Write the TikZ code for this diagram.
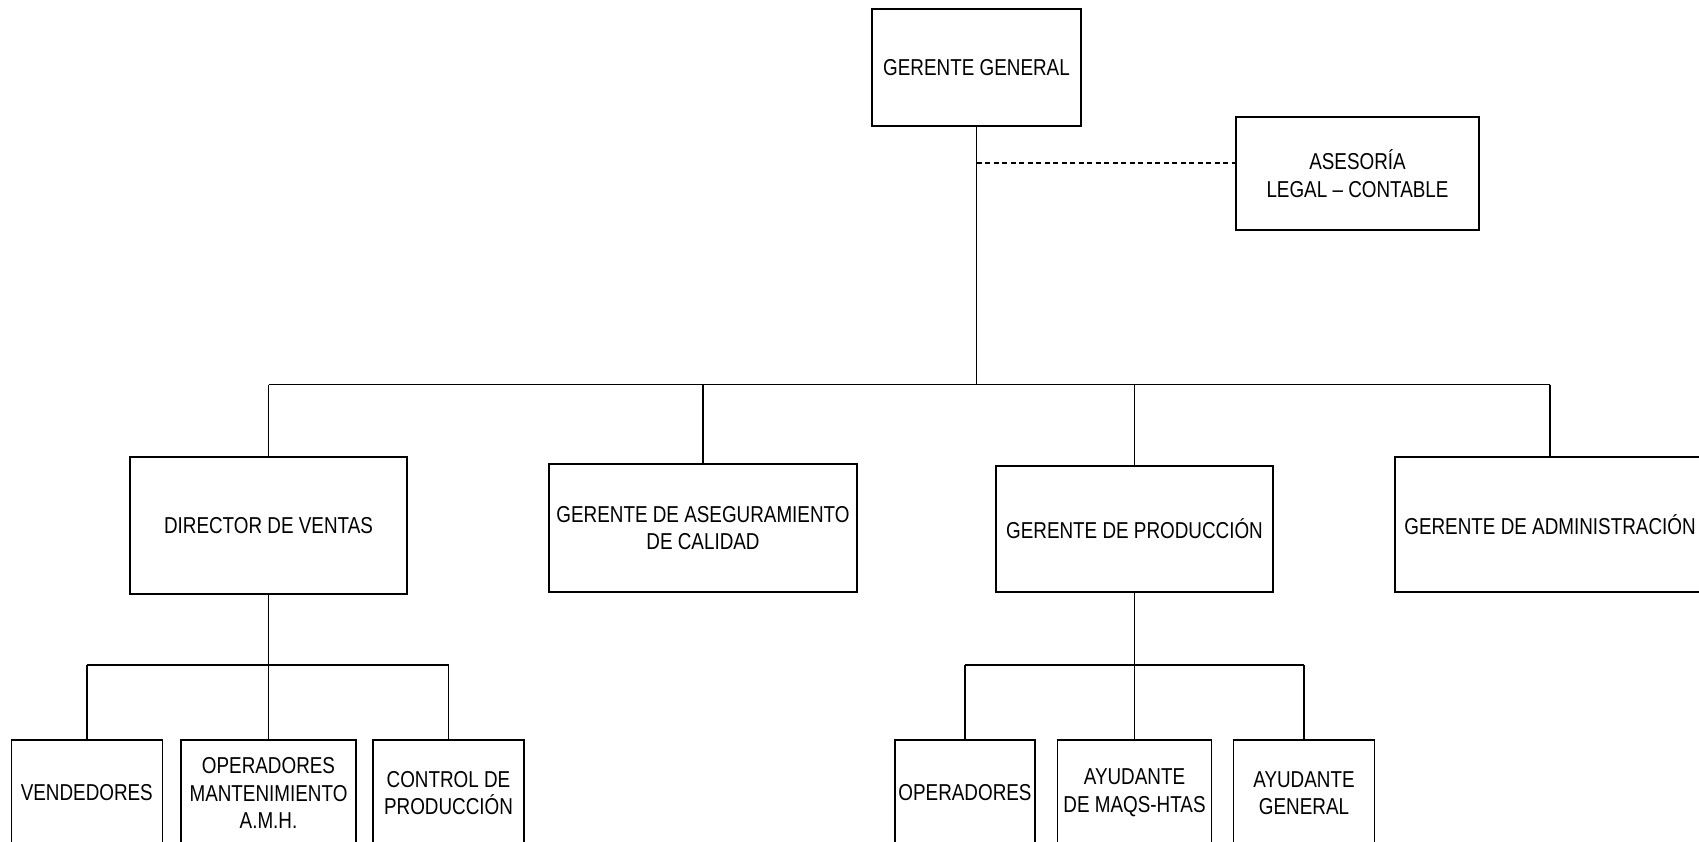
\documentclass[tikz,border=0pt]{standalone}
\usepackage{fontspec}
\setmainfont{Liberation Sans}[FakeStretch=0.82]
\begin{document}
\begin{tikzpicture}[x=1pt,y=-1pt,
  box/.style={draw,line width=1.4pt,rectangle,align=center,inner sep=0pt,
    font=\fontsize{23}{27.5}\selectfont},
  link/.style={line width=1.4pt},
  staff/.style={line width=1.2pt,dash pattern=on 5pt off 3.5pt}]
\useasboundingbox (0,0) rectangle (1699,842);

% top level
\node[box,minimum width=209pt,minimum height=117pt] (gg) at (976.5,67.5) {GERENTE GENERAL};
\node[box,minimum width=243pt,minimum height=113pt] (ases) at (1357.5,173.5) {ASESOR\'IA\\LEGAL -- CONTABLE};

% second level
\node[box,minimum width=277pt,minimum height=137pt] (dir) at (268.5,525.5) {DIRECTOR DE VENTAS};
\node[box,minimum width=308pt,minimum height=128pt] (aseg) at (703,528) {GERENTE DE ASEGURAMIENTO\\DE CALIDAD};
\node[box,minimum width=277pt,minimum height=126pt] (prod) at (1134.5,529) {GERENTE DE PRODUCCI\'ON};
\node[box,minimum width=310pt,minimum height=135pt] (adm) at (1550,524.5) {GERENTE DE ADMINISTRACI\'ON};

% third level
\node[box,minimum width=151pt,minimum height=106pt] (vend) at (86.8,793) {VENDEDORES};
\node[box,minimum width=175pt,minimum height=106pt] (opm) at (268.5,793) {OPERADORES\\MANTENIMIENTO\\A.M.H.};
\node[box,minimum width=151pt,minimum height=106pt] (ctrl) at (448.5,793) {CONTROL DE\\PRODUCCI\'ON};
\node[box,minimum width=140pt,minimum height=106pt] (oper) at (965,793) {OPERADORES};
\node[box,minimum width=154pt,minimum height=106pt] (maqs) at (1134.5,793) {AYUDANTE\\DE MAQS-HTAS};
\node[box,minimum width=141pt,minimum height=106pt] (ayg) at (1304,793) {AYUDANTE\\GENERAL};

% bus levels
\coordinate (bus) at (0,384.6);
\coordinate (subA) at (0,665);
\coordinate (dashy) at (0,163);

% general manager to second level
\draw[link] (gg.south) -- (gg.south |- bus);
\draw[link] (dir.north |- bus) -- (adm.north |- bus);
\foreach \n in {dir,aseg,prod,adm}
  \draw[link] (\n.north |- bus) -- (\n.north);

% staff advisory link
\draw[staff] (gg.south |- dashy) -- (ases.west |- dashy);

% sales branch
\draw[link] (dir.south) -- (opm.north);
\draw[link] (vend.north |- subA) -- (ctrl.north |- subA);
\foreach \n in {vend,ctrl}
  \draw[link] (\n.north |- subA) -- (\n.north);

% production branch
\draw[link] (prod.south) -- (maqs.north);
\draw[link] (oper.north |- subA) -- (ayg.north |- subA);
\foreach \n in {oper,ayg}
  \draw[link] (\n.north |- subA) -- (\n.north);
\end{tikzpicture}
\end{document}
